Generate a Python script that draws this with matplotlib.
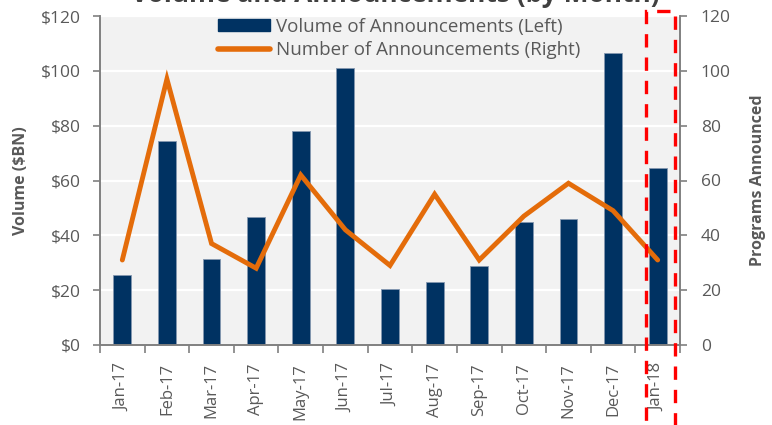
import numpy as np
import matplotlib
matplotlib.use('Agg')
import matplotlib.pyplot as plt
from matplotlib.patches import Rectangle, Patch
from matplotlib.lines import Line2D

months = ['Jan-17', 'Feb-17', 'Mar-17', 'Apr-17', 'May-17', 'Jun-17', 'Jul-17',
          'Aug-17', 'Sep-17', 'Oct-17', 'Nov-17', 'Dec-17', 'Jan-18']
volume = [25.4, 74.3, 31.4, 46.6, 78.1, 101.2, 20.6, 23.0, 28.7, 44.7, 45.8, 106.4, 64.7]
programs = [31, 97, 37, 28, 62, 42, 29, 55, 31, 47, 59, 49, 31]

#Colours and fonts
gray = '#595959'
navy = '#003262'
orange = '#E46C0A'
plt.rcParams['font.family'] = ['Open Sans', 'DejaVu Sans']

fig = plt.figure(figsize=(7.72, 4.25), dpi=100)
ax = fig.add_axes([100/772, 1-345/425, 580/772, 329/425])
ax2 = ax.twinx()

x = np.arange(len(months))
ax.bar(x, volume, width=0.4, color=navy, edgecolor='#8497b0', linewidth=0.6, zorder=2)
ax2.plot(x, programs, color=orange, linewidth=3.5, solid_capstyle='round', solid_joinstyle='miter', zorder=3)

ax.set_xlim(-0.5, len(months)-0.5)
ax.set_ylim(0, 120)
ax2.set_ylim(0, 120)
ax.set_yticks(range(0, 121, 20))
ax.set_yticklabels(['$%d' % v for v in range(0, 121, 20)])
ax2.set_yticks(range(0, 121, 20))

#Excel style background and grid
ax.set_facecolor('#f2f2f2')
ax2.patch.set_visible(False)
ax.grid(axis='y', color='white', linewidth=1.6, zorder=1)
ax.set_axisbelow(True)

ax.set_xticks(x)
ax.set_xticklabels(months, rotation=90, fontsize=12, color=gray)
ax.tick_params(axis='x', which='major', length=0, pad=13)
ax.set_xticks(np.arange(-0.5, len(months), 1), minor=True)
ax.tick_params(axis='x', which='minor', length=6, color='#808080', width=1.2)
ax.tick_params(axis='y', labelsize=12.5, labelcolor=gray, color='#808080', length=5, width=1.2, pad=9)
ax2.tick_params(axis='y', labelsize=12.5, labelcolor=gray, color='#808080', length=5, width=1.2, pad=10)

for a in (ax, ax2):
    a.spines['top'].set_visible(False)
    for s in ('left', 'right', 'bottom'):
        a.spines[s].set_color('#808080')
        a.spines[s].set_linewidth(1.2)

ax.set_ylabel('Volume ($BN)', fontsize=11.5, fontweight='bold', color=gray, labelpad=8)
ax2.set_ylabel('Programs Announced', fontsize=11.5, fontweight='bold', color=gray, labelpad=14)

handles = [Patch(facecolor=navy, edgecolor=navy),
           Line2D([0], [0], color=orange, linewidth=4, solid_capstyle='round')]
leg = ax.legend(handles, ['Volume of Announcements (Left)', 'Number of Announcements (Right)'],
                loc='upper left', bbox_to_anchor=(0.203, 0.995), frameon=False,
                fontsize=13.5, handlelength=2.8, handleheight=0.6, labelspacing=0.3,
                handletextpad=0.3, borderaxespad=0, borderpad=0)
for t in leg.get_texts():
    t.set_color(gray)

fig.text(0.512, 1.012, 'Volume and Announcements (by Month)', ha='center', va='center',
         fontsize=19, fontweight='bold', color='#404040')

#Red dashed highlight round the last month
rect = Rectangle((646/772, -0.05), 29/772, 1.05 - 11/425, fill=False, edgecolor='#ff0000',
                 linewidth=2.4, linestyle=(0, (4, 3)), transform=fig.transFigure, clip_on=False)
fig.add_artist(rect)

fig.savefig('out.png', dpi=100)
